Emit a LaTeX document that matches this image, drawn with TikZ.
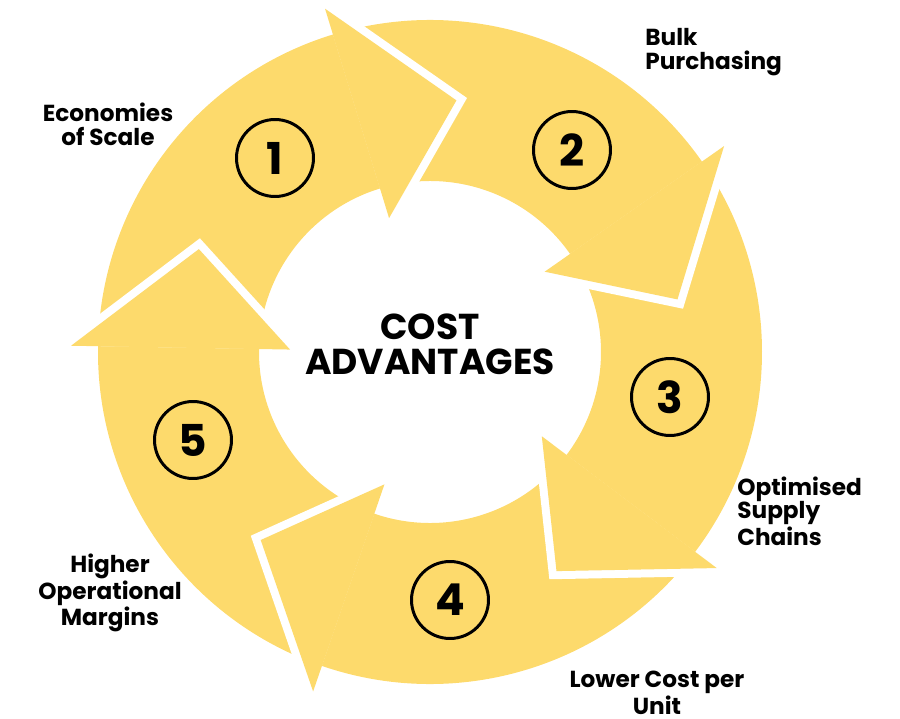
\documentclass[tikz,border=0pt]{standalone}
\usepackage{fontspec}
\setmainfont{Poppins}
\usetikzlibrary{calc}
\definecolor{ringyellow}{HTML}{FDDA6C}

\begin{document}
\begin{tikzpicture}[x=0.02cm,y=0.02cm]

\tikzset{numnode/.style={draw=black,line width=1.7pt,circle,minimum size=1.54cm,inner sep=0pt,font=\bfseries\fontsize{25}{25}\selectfont},
labelnode/.style={align=center,inner sep=0pt,font=\bfseries\fontsize{13.2}{13.6}\selectfont},
leftlabel/.style={align=left,inner sep=0pt,font=\bfseries\fontsize{13.2}{13.6}\selectfont},
titlenode/.style={align=center,inner sep=0pt,font=\bfseries\fontsize{20.5}{20}\selectfont}}

\useasboundingbox (0,0) rectangle (900,718);
\coordinate (c) at (430,366);

% Ring pieces, one per step
\foreach \k in {0,...,4} {
  \pgfmathsetmacro{\ang}{107-72*\k}
  \pgfmathsetmacro{\prev}{\ang+72}
  \fill[ringyellow] ($(c)+(\ang:332)$) arc[start angle=\ang, end angle=\prev, radius=332]
    -- ($(c)+(\prev:171)$) arc[start angle=\prev, end angle=\ang, radius=171] -- cycle;
}

% Arrow heads, cut out of the next piece with a white edge
\foreach \k in {0,...,4} {
  \pgfmathsetmacro{\ang}{107-72*\k}
  \pgfmathsetmacro{\tip}{\ang-23}
  \draw[white,line width=0.32cm] ($(c)+(\ang:359)$) -- ($(c)+(\tip:253)$) -- ($(c)+(\ang:140)$);
  \fill[ringyellow] ($(c)+(\ang:359)$) -- ($(c)+(\tip:253)$) -- ($(c)+(\ang:140)$) -- cycle;
}

% Step numbers
\node[numnode] (n1) at (275,560) {1};
\node[numnode] (n2) at (572,568) {2};
\node[numnode] (n3) at (670,321) {3};
\node[numnode] (n4) at (450,118) {4};
\node[numnode] (n5) at (193,278) {5};

% Centre title
\node[titlenode] (title) at (430,374) {COST\\ADVANTAGES};

% Step labels
\node[labelnode] (economies) at (108,594) {Economies\\of Scale};
\node[leftlabel,anchor=west] (bulk) at (645,666) {Bulk\\Purchasing};
\node[leftlabel,anchor=west] (supply) at (737,207) {Optimised\\Supply\\Chains};
\node[labelnode,anchor=south] (lower) at (657,3) {Lower Cost per\\Unit};
\node[labelnode] (margins) at (110,125) {Higher\\Operational\\Margins};

\end{tikzpicture}
\end{document}
